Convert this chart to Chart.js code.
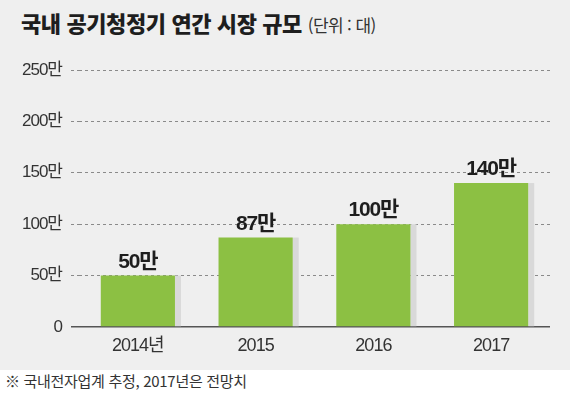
<!DOCTYPE html>
<html lang="ko">
<head>
  <meta charset="UTF-8">
  <title>국내 공기청정기 연간 시장 규모</title>
  <script src="https://cdn.jsdelivr.net/npm/chart.js"></script>
  <style>
    body {
      margin: 0;
      background: #fff;
      font-family: "Noto Sans CJK KR", sans-serif;
    }

    .box {
      position: relative;
      width: 570px;
      height: 370px;
      background: #efefef;
    }

    .titulo {
      position: absolute;
      left: 21px;
      top: 10px;
      margin: 0;
      font-size: 22px;
      line-height: 24px;
      font-weight: 900;
      color: #1e1e1e;
      letter-spacing: -0.4px;
      white-space: nowrap;
    }

    .titulo span {
      font-size: 17px;
      font-weight: normal;
      color: #333;
      letter-spacing: -0.6px;
    }

    canvas {
      position: absolute;
      left: 0;
      top: 0;
    }

    .nota {
      position: absolute;
      left: 5px;
      top: 372px;
      font-size: 15px;
      line-height: 18px;
      color: #333;
      letter-spacing: -0.3px;
    }
  </style>
</head>
<body>
  <div class="box">
    <h2 class="titulo">국내 공기청정기 연간 시장 규모 <span>(단위 : 대)</span></h2>
    <canvas id="grafico" width="570" height="370"></canvas>
  </div>
  <div class="nota">※ 국내전자업계 추정, 2017년은 전망치</div>

  <script>
    // valores em 만(10,000) unidades
    const anos = ['2014년', '2015', '2016', '2017'];
    const vendas = [50, 87, 100, 140];
    const yTicks = [0, 50, 100, 150, 200, 250];

    const verde = '#8cc043';
    const sombra = '#d9d9d9';

    const isZero = (c) => c.tick && c.tick.value === 0;

    // texto mais estreito, como no original
    const apertaTexto = {
      id: 'apertaTexto',
      beforeDraw(chart) {
        chart.ctx.letterSpacing = '-1px';
      }
    };

    // faixa cinza à direita de cada barra
    const sombraBarras = {
      id: 'sombraBarras',
      beforeDatasetsDraw(chart) {
        const ctx = chart.ctx;
        ctx.save();
        ctx.fillStyle = sombra;
        chart.getDatasetMeta(0).data.forEach(bar => {
          ctx.fillRect(bar.x + bar.width / 2, bar.y, 6, bar.base - bar.y);
        });
        ctx.restore();
      }
    };

    // rótulos de valor em cima das barras
    const rotulos = {
      id: 'rotulos',
      afterDatasetsDraw(chart) {
        const ctx = chart.ctx;
        ctx.save();
        ctx.font = 'bold 21px "Liberation Sans", "Noto Sans CJK KR"';
        ctx.letterSpacing = '-1.2px';
        ctx.fillStyle = '#1e1e1e';
        ctx.textAlign = 'center';
        ctx.textBaseline = 'alphabetic';
        chart.getDatasetMeta(0).data.forEach((bar, i) => {
          ctx.fillText(vendas[i] + '만', bar.x, bar.y - 8);
        });
        ctx.restore();
      }
    };

    const ctx = document.getElementById('grafico').getContext('2d');

    new Chart(ctx, {
      type: 'bar',
      data: {
        labels: anos,
        datasets: [{
          data: vendas,
          backgroundColor: verde,
          borderWidth: 0,
          barPercentage: 0.63,
          categoryPercentage: 1
        }]
      },
      options: {
        responsive: false,
        animation: false,
        layout: { padding: { top: 70, right: 20, bottom: 0, left: 0 } },
        plugins: {
          legend: { display: false },
          tooltip: { enabled: false }
        },
        scales: {
          x: {
            offset: true,
            grid: { display: false, drawTicks: false },
            border: { display: false },
            ticks: {
              color: '#333',
              padding: 8,
              font: { family: '"Liberation Sans", "Noto Sans CJK KR"', size: 18 }
            },
            afterFit: (s) => { s.height = 43; }
          },
          y: {
            min: 0,
            max: 250,
            afterBuildTicks: (s) => { s.ticks = yTicks.map(v => ({ value: v })); },
            grid: {
              color: (c) => isZero(c) ? '#555' : '#8a8a8a',
              tickColor: (c) => isZero(c) ? '#555' : '#8a8a8a',
              lineWidth: (c) => isZero(c) ? 1.5 : 1,
              tickWidth: (c) => isZero(c) ? 1.5 : 1,
              tickLength: 8,
              tickBorderDash: (c) => isZero(c) ? [] : [3, 3]
            },
            border: {
              display: false,
              dash: (c) => isZero(c) ? [] : [3, 3]
            },
            ticks: {
              color: '#333',
              padding: 9,
              font: { family: '"Liberation Sans", "Noto Sans CJK KR"', size: 17 },
              callback: (v) => v === 0 ? '0' : v + '만'
            },
            afterFit: (s) => { s.width = 79; }
          }
        }
      },
      plugins: [apertaTexto, sombraBarras, rotulos]
    });
  </script>
</body>
</html>
